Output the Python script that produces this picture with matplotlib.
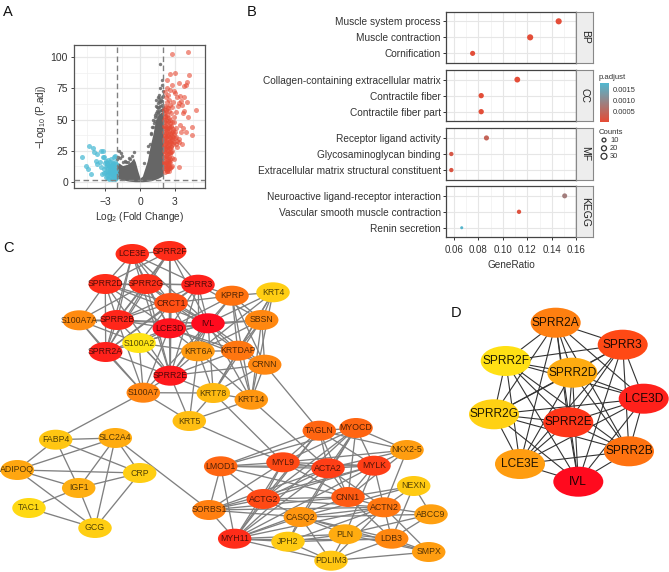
"""Figure composite : volcano (A), enrichissement (B), reseaux PPI (C, D)."""

from itertools import combinations

import matplotlib

matplotlib.use("Agg")
import matplotlib.pyplot as plt
from matplotlib.colors import LinearSegmentedColormap
from matplotlib.patches import Ellipse
import numpy as np

W, H = 669, 572

plt.rcParams["font.family"] = ["Liberation Sans", "DejaVu Sans"]
plt.rcParams["mathtext.default"] = "regular"

# --- A : volcano ---
red_x = [2.77, 4.11, 4.23, 2.54, 3.03, 2.34, 2.74, 3.37, 4.0, 3.97, 3.74, 4.8, 4.46, 4.46, 3.34,
         2.1, 2.2, 2.3, 2.15, 2.4, 2.5, 2.6, 2.25, 2.05, 2.35, 2.45, 2.7, 2.85, 3.0, 3.15,
         3.3, 3.45, 3.6, 3.8, 3.55, 3.25, 3.05, 2.9, 2.65, 2.55, 2.2, 2.1, 2.3, 2.45, 2.75,
         2.95, 3.1, 3.4, 3.7, 4.05, 2.15, 2.3, 2.5, 2.6, 2.8, 3.0, 2.1, 2.25, 2.4, 2.55,
         2.7, 2.85, 2.05, 2.2, 2.35, 2.5, 2.65, 2.8, 3.2, 3.5, 3.35, 2.15, 2.3, 2.45, 2.6,
         2.1, 2.2, 2.35, 2.5, 2.7, 2.05, 2.25, 2.4, 2.6, 2.9, 2.1, 2.3, 2.45, 2.55, 2.2,
         2.35, 2.15, 2.75, 3.6, 3.95, 3.2, 3.65, 4.15, 3.75, 2.95, 2.6, 2.3, 2.15, 2.5, 2.4,
         2.05, 2.12, 2.18, 2.28, 2.38, 2.48, 2.58, 2.68, 2.05, 2.12, 2.22, 2.32, 2.42, 2.52, 2.62,
         2.72, 2.82, 2.05, 2.14, 2.24, 2.34, 2.44, 2.54, 2.64, 2.74, 2.88, 3.02, 3.12, 2.06, 2.16,
         2.26, 2.36, 2.46, 2.56, 2.66, 2.78, 2.92, 3.08, 2.05, 2.13, 2.23, 2.33, 2.43, 2.53, 2.63,
         2.06, 2.16, 2.26, 2.36, 2.46, 2.56, 2.68, 2.08, 2.18, 2.28, 2.38, 2.48, 2.58, 2.05, 2.15,
         2.27, 2.37, 2.47, 2.07, 2.17, 2.29, 2.39, 2.49, 2.62, 2.78, 2.09, 2.19, 2.31, 2.41, 3.3]
red_y = [102.7, 104.6, 85.8, 86.9, 87.7, 81.8, 78.0, 79.4, 80.4, 77.5, 77.0, 57.4, 43.7, 37.3, 12.0,
         72.0, 68.0, 64.0, 61.0, 70.0, 66.0, 62.0, 58.0, 55.0, 54.0, 57.0, 60.0, 64.0, 71.0, 68.0,
         63.0, 69.0, 62.0, 68.0, 65.0, 61.0, 56.0, 52.0, 55.0, 50.0, 50.0, 46.0, 47.0, 45.0, 48.0,
         48.0, 43.0, 46.0, 55.0, 64.0, 42.0, 41.0, 43.0, 39.0, 42.0, 40.0, 37.0, 36.0, 37.0, 35.0,
         34.0, 36.0, 33.0, 31.0, 32.0, 30.0, 29.0, 30.0, 33.0, 40.0, 32.0, 27.0, 26.0, 27.0, 24.0,
         23.0, 21.0, 22.0, 20.0, 19.0, 17.0, 16.0, 17.0, 16.0, 18.0, 13.0, 12.0, 13.0, 11.0, 10.0,
         9.0, 8.0, 25.0, 30.0, 40.0, 28.0, 43.0, 52.0, 57.0, 73.0, 74.0, 75.0, 52.0, 9.0, 14.0,
         50.0, 53.0, 48.0, 52.0, 49.0, 51.0, 47.0, 45.0, 45.0, 43.0, 44.0, 42.0, 43.0, 41.0, 44.0,
         40.0, 41.0, 40.0, 38.0, 39.0, 37.0, 38.0, 36.0, 38.0, 37.0, 38.0, 35.0, 36.0, 34.0, 35.0,
         33.0, 34.0, 32.0, 33.0, 31.0, 33.0, 32.0, 30.0, 29.0, 30.0, 29.0, 28.0, 29.0, 27.0, 28.0,
         25.0, 26.0, 24.0, 25.0, 23.0, 22.0, 24.0, 20.0, 19.0, 20.0, 18.0, 17.0, 18.0, 15.0, 14.0,
         15.0, 13.0, 15.0, 11.0, 11.0, 9.0, 10.5, 11.0, 12.0, 13.0, 58.0, 56.0, 60.0, 59.0, 34.0]
blue_x = [-5.0, -4.4, -4.05, -3.95, -3.65, -3.35, -3.15, -3.05, -4.6, -4.45, -4.2, -3.8, -3.7, -3.45,
          -3.3, -3.2, -3.0, -2.9, -2.75, -2.6, -2.5, -2.35, -2.2, -2.1, -3.1, -2.95, -2.8, -2.65, -2.45,
          -2.3, -2.15, -2.05, -2.9, -2.7, -2.55, -2.4, -2.25, -2.1, -3.25, -3.05, -2.85, -2.6, -2.35, -2.1,
          -2.75, -2.5, -2.2, -2.05, -2.95, -2.65, -2.3, -2.15, -2.05, -2.4, -2.1,
          -2.8, -2.7, -2.6, -2.5, -2.4, -2.3, -2.2, -2.1, -2.6, -2.45, -2.3, -2.15, -2.05, -2.75, -2.35, -2.2]
blue_y = [19.5, 29.0, 27.0, 24.0, 22.0, 24.5, 24.5, 20.0, 13.0, 10.5, 6.5, 17.0, 14.5, 16.0,
          12.0, 19.5, 15.0, 17.0, 17.5, 16.0, 18.0, 15.0, 20.0, 20.5, 10.0, 12.0, 13.5, 12.5, 13.0,
          12.0, 16.0, 14.0, 8.0, 9.0, 10.0, 10.5, 9.0, 11.0, 6.5, 7.0, 5.0, 6.5, 7.0, 8.0,
          3.0, 4.0, 5.0, 6.0, 3.5, 2.5, 3.0, 4.0, 3.0, 2.5, 2.0,
          15.0, 11.0, 14.0, 11.5, 8.0, 14.0, 11.0, 7.0, 8.0, 6.0, 5.5, 7.0, 9.5, 7.0, 13.0, 13.5]
gray_left_x = [-2.0, -1.8, -1.5, -1.1, -0.8, -0.55, -0.4, -0.2, 0.0]
gray_left_top = [15.0, 15.0, 13.0, 14.0, 16.0, 19.0, 16.0, 9.0, 3.0]
gray_left_bot = [3.0, 2.2, 1.5, 0.7, 0.3, 0.1, 0.0, 0.0, 0.0]
gray_right_x = [0.0, 0.2, 0.63, 0.9, 1.1, 1.34, 1.6, 1.8, 2.0]
gray_right_top = [3.0, 4.5, 17.0, 30.0, 38.0, 50.0, 54.0, 56.0, 56.0]
gray_right_bot = [0.0, 0.0, 0.3, 0.8, 1.2, 2.0, 3.0, 4.0, 5.0]
gray_x = [1.7, 1.9, 1.85, 1.6, 1.4, 1.35, 1.75, 1.95, 1.55, 1.25, 1.0, -1.65, -1.8, -1.55, -0.5,
          -1.9, -1.3, -0.7, 0.9, 1.15, 1.45, 1.65, 1.9, 0.65, 0.35, -1.75, -1.2, -0.95,
          1.5, 1.6, 1.7, 1.8, 1.9, 1.98, 1.45, 1.55, 1.65, 1.75, 1.85, 1.95, 1.35, 1.5, 1.62, 1.78, 1.92,
          1.3, 1.42, 1.58, 1.72, 1.88, 1.97, 1.18, 1.28, 1.08, 0.98, 0.82, 0.72, -1.95, -1.45, -0.85, -1.0]
gray_y = [95.0, 82.0, 78.0, 70.0, 66.0, 61.0, 75.0, 73.0, 63.0, 54.0, 44.0, 23.0, 25.0, 21.0, 24.0,
          20.0, 17.0, 21.0, 38.0, 50.0, 57.0, 65.0, 68.0, 29.0, 15.0, 19.0, 16.0, 19.0,
          68.0, 67.0, 64.0, 66.0, 62.0, 69.0, 60.0, 59.0, 60.0, 61.0, 58.0, 60.0, 55.0, 56.0, 57.0, 58.0, 65.0,
          52.0, 53.0, 55.0, 54.0, 58.0, 58.0, 47.0, 49.0, 44.0, 39.0, 30.0, 24.0, 18.0, 16.0, 18.0, 16.0]

# --- B : dotplot ---
facets = ["BP", "CC", "MF", "KEGG"]
terms = [["Muscle system process", "Muscle contraction", "Cornification"],
         ["Collagen-containing extracellular matrix", "Contractile fiber", "Contractile fiber part"],
         ["Receptor ligand activity", "Glycosaminoglycan binding", "Extracellular matrix structural constituent"],
         ["Neuroactive ligand-receptor interaction", "Vascular smooth muscle contraction", "Renin secretion"]]
gene_ratio = [[0.1456, 0.1223, 0.0753], [0.1118, 0.0823, 0.0823], [0.0866, 0.0579, 0.0579], [0.1505, 0.1132, 0.0664]]
p_adjust = [[0.00003, 0.00003, 0.00005], [0.00003, 0.00004, 0.00004], [0.0004, 0.0002, 0.00015], [0.0008, 0.0001, 0.0017]]
counts = [[33, 33, 22], [29, 24, 24], [22, 15, 15], [21, 15, 6]]
count_levels = [10, 20, 30]
xticks_b = [0.06, 0.08, 0.10, 0.12, 0.14, 0.16]

# --- C et D : reseaux ---
names_c = ["LCE3E", "SPRR2F", "SPRR2D", "SPRR2G", "SPRR3", "KPRP", "KRT4", "CRCT1", "S100A7A", "SPRR2B", "IVL",
           "LCE3D", "SBSN", "S100A2", "SPRR2A", "KRT6A", "KRTDAP", "CRNN", "SPRR2E", "S100A7", "KRT78", "KRT14",
           "KRT5", "TAGLN", "MYOCD", "NKX2-5", "FABP4", "SLC2A4", "ADIPOQ", "CRP", "IGF1", "TAC1", "GCG",
           "LMOD1", "MYL9", "ACTA2", "MYLK", "NEXN", "ACTG2", "CNN1", "ACTN2", "SORBS1", "CASQ2", "ABCC9",
           "MYH11", "JPH2", "PLN", "LDB3", "SMPX", "PDLIM3"]
px_c = [132.3, 169.7, 105.3, 146.0, 198.0, 232.0, 273.0, 171.0, 79.3, 117.3, 208.0,
        169.3, 261.7, 139.0, 105.7, 198.0, 237.7, 264.7, 170.3, 143.3, 213.3, 251.3,
        189.3, 319.3, 356.0, 407.0, 55.7, 115.3, 17.3, 139.7, 78.7, 29.0, 95.0,
        220.7, 283.0, 328.0, 374.0, 413.7, 263.3, 348.0, 384.0, 209.0, 300.3, 431.0,
        234.7, 288.0, 345.3, 391.7, 428.7, 331.0]
py_c = [254.0, 251.0, 284.0, 284.0, 284.7, 295.7, 292.3, 303.0, 320.3, 320.0, 323.3,
        328.3, 320.0, 343.0, 352.0, 351.3, 350.7, 364.7, 375.7, 392.7, 393.0, 399.7,
        421.0, 430.7, 428.0, 450.0, 439.7, 438.0, 470.0, 473.0, 488.0, 508.0, 528.0,
        466.3, 462.3, 468.3, 465.7, 486.0, 499.0, 497.0, 507.3, 510.0, 517.0, 514.3,
        538.7, 541.7, 534.3, 538.7, 552.0, 560.7]
score_c = [0.88, 0.88, 0.88, 0.87, 0.92, 0.62, 0.12, 0.76, 0.48, 0.90, 1.0,
           0.97, 0.50, 0.0, 0.92, 0.40, 0.60, 0.50, 0.95, 0.52, 0.22, 0.42,
           0.2, 0.68, 0.68, 0.38, 0.16, 0.30, 0.33, 0.12, 0.28, 0.06, 0.12,
           0.68, 0.78, 0.82, 0.82, 0.14, 0.78, 0.72, 0.60, 0.55, 0.42, 0.36,
           0.88, 0.14, 0.30, 0.50, 0.38, 0.16]

core_c = ["LCE3E", "SPRR2F", "SPRR2D", "SPRR2G", "SPRR3", "SPRR2B", "IVL", "LCE3D", "SPRR2A", "SPRR2E", "CRCT1"]
muscle_c = ["TAGLN", "MYOCD", "LMOD1", "MYL9", "ACTA2", "MYLK", "ACTG2", "CNN1", "MYH11"]
edges_c = list(combinations(core_c, 2)) + list(combinations(muscle_c, 2)) + [
    ("S100A7A", "SPRR2D"), ("S100A7A", "SPRR2B"), ("S100A7A", "SPRR2G"), ("S100A7A", "SPRR2A"), ("S100A7A", "S100A7"),
    ("S100A7A", "S100A2"), ("S100A7A", "IVL"), ("S100A2", "SPRR2E"), ("S100A2", "S100A7"), ("S100A2", "IVL"),
    ("S100A2", "LCE3D"), ("S100A2", "KRT6A"), ("S100A2", "CRCT1"), ("S100A7", "SPRR2E"), ("S100A7", "SPRR2A"),
    ("S100A7", "SPRR2B"), ("S100A7", "IVL"), ("S100A7", "KRT78"), ("S100A7", "LCE3D"), ("S100A7", "KRT5"),
    ("KPRP", "IVL"), ("KPRP", "SPRR3"), ("KPRP", "LCE3D"), ("KPRP", "KRT4"), ("KPRP", "SBSN"), ("KPRP", "CRNN"),
    ("KPRP", "KRTDAP"), ("KPRP", "CRCT1"), ("KPRP", "KRT14"), ("KPRP", "SPRR2E"), ("KRT4", "IVL"), ("KRT4", "KRT78"),
    ("KRT4", "KRT14"), ("KRT4", "KRTDAP"), ("KRT4", "KRT6A"), ("KRT4", "SBSN"), ("SBSN", "IVL"), ("SBSN", "LCE3D"),
    ("SBSN", "KRTDAP"), ("SBSN", "CRNN"), ("SBSN", "KRT6A"), ("SBSN", "SPRR3"), ("SBSN", "KRT14"), ("SBSN", "KRT78"),
    ("KRT6A", "IVL"), ("KRT6A", "LCE3D"), ("KRT6A", "SPRR2E"), ("KRT6A", "KRTDAP"), ("KRT6A", "KRT78"), ("KRT6A", "KRT14"),
    ("KRT6A", "CRCT1"), ("KRT6A", "KRT5"), ("KRT6A", "SPRR3"), ("KRTDAP", "IVL"), ("KRTDAP", "LCE3D"), ("KRTDAP", "CRNN"),
    ("KRTDAP", "KRT78"), ("KRTDAP", "KRT14"), ("KRTDAP", "SPRR2E"), ("KRTDAP", "CRCT1"), ("CRNN", "IVL"), ("CRNN", "KRT78"),
    ("CRNN", "SPRR2E"), ("CRNN", "KRT14"), ("CRNN", "LCE3D"), ("CRNN", "TAGLN"), ("KRT78", "SPRR2E"), ("KRT78", "KRT14"),
    ("KRT78", "KRT5"), ("KRT78", "IVL"), ("KRT14", "KRT5"), ("KRT14", "IVL"), ("KRT14", "ACTA2"), ("KRT78", "MYL9"),
    ("SPRR2E", "KRT5"), ("KRT5", "MYL9"), ("FABP4", "S100A7"), ("FABP4", "SLC2A4"), ("FABP4", "ADIPOQ"), ("FABP4", "IGF1"),
    ("FABP4", "CRP"), ("SLC2A4", "ADIPOQ"), ("SLC2A4", "IGF1"), ("SLC2A4", "CRP"), ("SLC2A4", "GCG"), ("SLC2A4", "SORBS1"),
    ("ADIPOQ", "CRP"), ("ADIPOQ", "IGF1"), ("ADIPOQ", "GCG"), ("CRP", "IGF1"), ("CRP", "GCG"), ("IGF1", "TAC1"),
    ("IGF1", "GCG"), ("TAC1", "GCG"), ("NKX2-5", "MYOCD"), ("NKX2-5", "TAGLN"), ("NKX2-5", "MYLK"), ("NKX2-5", "ACTA2"),
    ("NKX2-5", "MYL9"), ("NKX2-5", "ACTN2"), ("NKX2-5", "CNN1"), ("NEXN", "ACTN2"), ("NEXN", "ABCC9"), ("NEXN", "LDB3"),
    ("NEXN", "CASQ2"), ("NEXN", "CNN1"), ("SORBS1", "LMOD1"), ("SORBS1", "MYL9"), ("SORBS1", "ACTG2"), ("SORBS1", "ACTA2"),
    ("SORBS1", "MYLK"), ("SORBS1", "CNN1"), ("SORBS1", "ACTN2"), ("SORBS1", "MYH11"), ("SORBS1", "CASQ2"),
    ("ACTN2", "CASQ2"), ("ACTN2", "CNN1"), ("ACTN2", "ACTG2"), ("ACTN2", "MYLK"), ("ACTN2", "ACTA2"), ("ACTN2", "LDB3"),
    ("ACTN2", "ABCC9"), ("ACTN2", "SMPX"), ("ACTN2", "PLN"), ("ACTN2", "MYH11"), ("ACTN2", "JPH2"), ("ACTN2", "PDLIM3"),
    ("CASQ2", "PLN"), ("CASQ2", "JPH2"), ("CASQ2", "LDB3"), ("CASQ2", "MYH11"), ("CASQ2", "ABCC9"), ("CASQ2", "SMPX"),
    ("CASQ2", "PDLIM3"), ("CASQ2", "MYOCD"), ("CASQ2", "ACTG2"), ("MYH11", "JPH2"), ("MYH11", "PLN"), ("MYH11", "LDB3"),
    ("MYH11", "PDLIM3"), ("JPH2", "PLN"), ("JPH2", "LDB3"), ("JPH2", "PDLIM3"), ("PLN", "LDB3"), ("PLN", "PDLIM3"),
    ("PLN", "ABCC9"), ("PLN", "SMPX"), ("LDB3", "SMPX"), ("LDB3", "PDLIM3"), ("LDB3", "ABCC9"), ("SMPX", "PDLIM3"),
    ("LDB3", "CNN1"), ("PLN", "MYLK"), ("JPH2", "MYOCD"),
]

names_d = ["SPRR2A", "SPRR3", "SPRR2F", "SPRR2D", "LCE3D", "SPRR2G", "SPRR2E", "SPRR2B", "LCE3E", "IVL"]
px_d = [555.7, 622.7, 505.7, 572.3, 643.7, 494.0, 568.3, 629.0, 520.0, 578.3]
py_d = [322.7, 344.7, 361.0, 372.7, 398.7, 414.3, 422.3, 451.3, 464.0, 481.7]
score_d = [0.55, 0.78, 0.02, 0.30, 0.92, 0.10, 0.85, 0.62, 0.38, 1.0]
edges_d = list(combinations(names_d, 2))

heat = LinearSegmentedColormap.from_list("heat", ["#FFE414", "#FFA510", "#FF6A10", "#FF0A1E"])
padj_cmap = LinearSegmentedColormap.from_list("padj", ["#E64B35", "#4DBBD5"])


def axes_px(fig, left, top, right, bottom):
    return fig.add_axes([left / W, 1 - bottom / H, (right - left) / W, (bottom - top) / H])


def draw_volcano(fig):
    ax = axes_px(fig, 74.3, 45.3, 205, 188.3)
    ax.fill_between(gray_left_x, gray_left_bot, gray_left_top, color="#666666", lw=0, zorder=2)
    ax.fill_between(gray_right_x, gray_right_bot, gray_right_top, color="#666666", lw=0, zorder=2)
    ax.scatter(gray_x, gray_y, s=6, color="#666666", alpha=0.85, lw=0, zorder=2)
    ax.scatter(blue_x, blue_y, s=13, color="#4DBBD5", alpha=0.75, lw=0, zorder=3)
    ax.scatter(red_x, red_y, s=13, color="#E64B35", alpha=0.6, lw=0, zorder=3)
    for xv in (-2, 2):
        ax.axvline(xv, color="#808080", ls=(0, (4, 2.5)), lw=1, zorder=4)
    ax.axhline(1.3, color="#808080", ls=(0, (4, 2.5)), lw=1, zorder=4)
    ax.set_xlim(-5.63, 5.57)
    ax.set_ylim(-5.3, 109.7)
    ax.set_xticks([-3, 0, 3], ["\u22123", "0", "3"])
    ax.set_yticks([0, 25, 50, 75, 100])
    ax.set_xticks([-4.5, -1.5, 1.5, 4.5], minor=True)
    ax.set_yticks([12.5, 37.5, 62.5, 87.5], minor=True)
    ax.grid(True, which="major", color="#e8e8e8", lw=0.9)
    ax.grid(True, which="minor", color="#f0f0f0", lw=0.5)
    ax.set_axisbelow(True)
    ax.tick_params(which="minor", length=0)
    ax.tick_params(which="major", length=2.5, width=0.7, labelsize=7.5, color="#444444", labelcolor="#333333", pad=2)
    ax.tick_params(axis="x", pad=4)
    for s in ax.spines.values():
        s.set_color("#555555")
        s.set_linewidth(0.9)
    ax.set_xlabel("Log$_2$ (Fold Change)", fontsize=7.2, color="#333333", labelpad=2)
    ax.set_ylabel("\u2212Log$_{10}$ (P.adj)", fontsize=7.2, color="#333333", labelpad=2)


def draw_dotplot(fig):
    tops = [11.7, 70, 128.3, 186.3]
    bottoms = [63, 121.3, 179.7, 237.3]
    for i, name in enumerate(facets):
        ax = axes_px(fig, 446.3, tops[i], 576.3, bottoms[i])
        ypos = [3, 2, 1]
        ax.scatter(gene_ratio[i], ypos, s=[c * 0.55 + 1.5 for c in counts[i]],
                   c=p_adjust[i], cmap=padj_cmap, vmin=0, vmax=0.0018, lw=0, zorder=3)
        ax.set_ylim(0.4, 3.6)
        ax.set_xlim(0.0538, 0.16)
        ax.set_yticks(ypos, terms[i])
        ax.set_xticks(xticks_b)
        ax.set_xticks([0.07, 0.09, 0.11, 0.13, 0.15], minor=True)
        ax.grid(True, which="major", color="#e6e6e6", lw=0.8)
        ax.grid(True, which="minor", axis="x", color="#f0f0f0", lw=0.5)
        ax.set_axisbelow(True)
        ax.tick_params(which="minor", length=0)
        ax.tick_params(axis="y", length=2.5, width=0.7, labelsize=7.3, color="#333333", labelcolor="#333333", pad=1.5)
        ax.tick_params(axis="x", length=2.5, width=0.7, labelsize=7.0, color="#333333", labelcolor="#333333", pad=3)
        if i < 3:
            ax.tick_params(axis="x", which="both", bottom=False, labelbottom=False)
        else:
            ax.set_xticklabels([f"{v:.2f}" for v in xticks_b])
            ax.set_xlabel("GeneRatio", fontsize=7.2, color="#333333", labelpad=4)
        for s in ax.spines.values():
            s.set_color("#444444")
            s.set_linewidth(0.9)
        st = axes_px(fig, 576.3, tops[i], 593.3, bottoms[i])
        st.set_facecolor("#ededed")
        st.set_xticks([])
        st.set_yticks([])
        for s in st.spines.values():
            s.set_color("#888888")
            s.set_linewidth(0.8)
        st.text(0.5, 0.5, name, rotation=270, ha="center", va="center", fontsize=7.5,
                color="#222222", transform=st.transAxes)

    cb = axes_px(fig, 600, 82.7, 608.7, 122)
    grad = np.linspace(0.0018, 0, 128).reshape(-1, 1)
    cb.imshow(grad, aspect="auto", cmap=padj_cmap, vmin=0, vmax=0.0018, extent=[0, 1, 0, 0.0018])
    cb.set_xticks([])
    cb.yaxis.tick_right()
    cb.set_yticks([0.0005, 0.001, 0.0015], ["0.0005", "0.0010", "0.0015"])
    cb.tick_params(axis="y", length=0, labelsize=5.4, labelcolor="#333333", pad=3)
    for s in cb.spines.values():
        s.set_visible(False)


def draw_network(ax, names, px, py, scores, edges, w, h, fs, edge_color, edge_lw, text_alpha):
    pos = {n: (x, y) for n, x, y in zip(names, px, py)}
    for a, b in edges:
        ax.plot([pos[a][0], pos[b][0]], [pos[a][1], pos[b][1]], color=edge_color, lw=edge_lw, zorder=1,
                solid_capstyle="round")
    for n, x, y, sc in zip(names, px, py, scores):
        ax.add_patch(Ellipse((x, y), w, h, facecolor=heat(sc), edgecolor="none", zorder=2))
        ax.text(x, y, n, ha="center", va="center", fontsize=fs, color="black", alpha=text_alpha, zorder=3)


def main():
    fig = plt.figure(figsize=(W / 100, H / 100), dpi=100)

    draw_volcano(fig)
    draw_dotplot(fig)

    # calque en pixels pour les reseaux et les annotations
    ov = fig.add_axes([0, 0, 1, 1], zorder=-1)
    ov.set_xlim(0, W)
    ov.set_ylim(H, 0)
    ov.axis("off")

    draw_network(ov, names_c, px_c, py_c, score_c, edges_c, 33.5, 20, 6.3, "#808080", 0.95, 0.68)
    draw_network(ov, names_d, px_d, py_d, score_d, edges_d, 50, 30, 8.6, "#333333", 0.8, 0.88)

    for label, x, y in [("A", 3, 12), ("B", 247, 12), ("C", 3, 248), ("D", 451, 313)]:
        ov.text(x, y, label, fontsize=10.5, ha="left", va="center", color="#111111")

    # legendes de droite du panneau B
    ov.text(599, 77.7, "p.adjust", fontsize=5.6, ha="left", va="center", color="#333333")
    ov.text(599, 132, "Counts", fontsize=5.6, ha="left", va="center", color="#333333")
    for c, yy in zip(count_levels, [140, 148.3, 156.3]):
        ov.scatter([604], [yy], s=c * 0.5 + 3, facecolor="none", edgecolor="#333333", lw=0.9)
        ov.text(610, yy, str(c), fontsize=5.4, ha="left", va="center", color="#333333")

    fig.savefig("out.png", dpi=100, facecolor="white")


if __name__ == "__main__":
    main()
